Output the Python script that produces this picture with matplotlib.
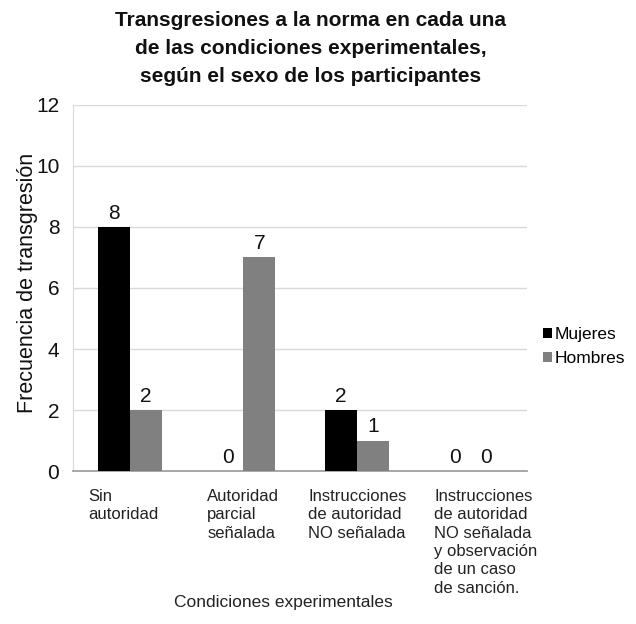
import matplotlib
matplotlib.use("Agg")
import matplotlib.pyplot as plt
import numpy as np

plt.rcParams['font.family'] = ['Liberation Sans', 'DejaVu Sans']

categories = ["Sin\nautoridad",
              "Autoridad\nparcial\nseñalada",
              "Instrucciones\nde autoridad\nNO señalada",
              "Instrucciones\nde autoridad\nNO señalada\ny observación\nde un caso\nde sanción."]
mujeres = [8, 0, 2, 0]
hombres = [2, 7, 1, 0]
series_names = ["Mujeres", "Hombres"]
yticks = [0, 2, 4, 6, 8, 10, 12]
title = "Transgresiones a la norma en cada una\nde las condiciones experimentales,\nsegún el sexo de los participantes"
ylabel = "Frecuencia de transgresión"
xlabel = "Condiciones experimentales"

fig = plt.figure(figsize=(6.36, 6.24), dpi=100)
ax = fig.add_axes([0.115, 0.245, 0.714, 0.587])

x = np.arange(len(categories))
w = 0.28
b1 = ax.bar(x - w/2, mujeres, w, color='#000000', label=series_names[0], zorder=3)
b2 = ax.bar(x + w/2, hombres, w, color='#808080', label=series_names[1], zorder=3)

for bars in (b1, b2):
    for r in bars:
        h = r.get_height()
        ax.annotate(f"{h:g}", (r.get_x() + r.get_width()/2, h), xytext=(0, 3),
                    textcoords='offset points', ha='center', va='bottom', fontsize=15,
                    color='#111111')

ax.set_xlim(-0.5, len(categories) - 0.5)
ax.set_ylim(0, 12)
ax.set_yticks(yticks)
ax.set_yticklabels([str(t) for t in yticks], fontsize=15, color='#111111')
ax.tick_params(axis='y', length=0, pad=10)
ax.grid(axis='y', color='#d9d9d9', linewidth=1, zorder=0)
ax.set_axisbelow(True)
for s in ['top', 'right']:
    ax.spines[s].set_visible(False)
ax.spines['left'].set_color('#d9d9d9')
ax.spines['bottom'].set_color('#a0a0a0')
ax.spines['bottom'].set_linewidth(1.3)

ax.set_xticks([])
offsets = [-0.37, -0.32, -0.43, -0.32]
for i, (lab, off) in enumerate(zip(categories, offsets)):
    ax.text(i + off, -0.58, lab, transform=ax.transData, ha='left', va='top',
            fontsize=12, color='#222222', linespacing=1.28, clip_on=False)

ax.set_ylabel(ylabel, fontsize=15.5, color='#111111')
ax.yaxis.set_label_coords(-0.078, 0.514)
fig.text(0.445, 0.034, xlabel, ha='center', va='center', fontsize=12.5, color='#222222')
fig.text(0.488, 0.983, title, ha='center', va='top', fontsize=15, fontweight='bold',
         linespacing=1.6, color='#111111')

leg = ax.legend(loc='center left', bbox_to_anchor=(1.0, 0.34), frameon=False,
                fontsize=12.5, handlelength=0.5, handleheight=0.5, handletextpad=0.15,
                labelspacing=0.5)

fig.savefig("out.png", dpi=100)
